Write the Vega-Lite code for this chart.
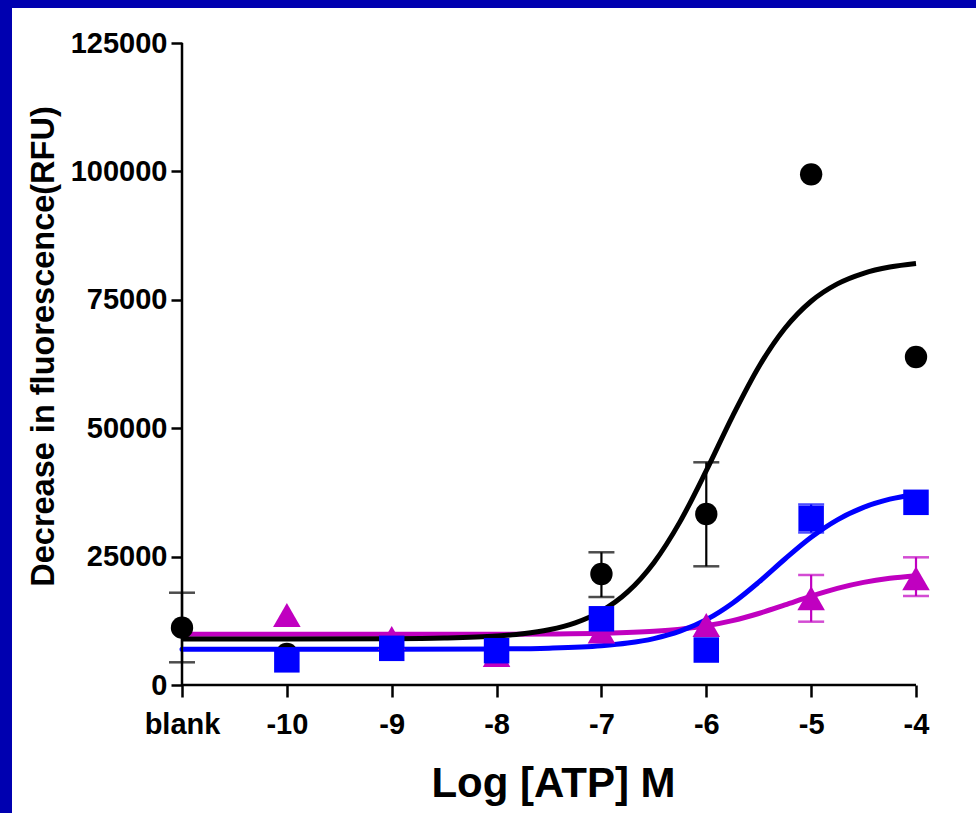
{
  "$schema": "https://vega.github.io/schema/vega-lite/v6.json",
  "width": 964,
  "height": 805,
  "autosize": {"type": "none"},
  "padding": {"left": 12, "top": 8, "right": 0, "bottom": 0},
  "background": "#0000b0",
  "config": {"view": {"fill": "white", "stroke": null}, "font": "Liberation Sans"},
  "datasets": {
    "frame": [
      {"x": -11, "x2": -4, "y": 0, "y2": 0},
      {"x": -11, "x2": -11, "y": 0, "y2": 125000}
    ],
    "curves": [
      {"s": "black", "x": -11, "y": 8951}, {"s": "black", "x": -10, "y": 8956}, {"s": "black", "x": -9, "y": 9009},
      {"s": "black", "x": -8.5, "y": 9136}, {"s": "black", "x": -8, "y": 9536}, {"s": "black", "x": -7.75, "y": 9981},
      {"s": "black", "x": -7.5, "y": 10765}, {"s": "black", "x": -7.25, "y": 12116}, {"s": "black", "x": -7, "y": 14399},
      {"s": "black", "x": -6.75, "y": 18116}, {"s": "black", "x": -6.5, "y": 23816}, {"s": "black", "x": -6.25, "y": 31812},
      {"s": "black", "x": -6, "y": 41730}, {"s": "black", "x": -5.75, "y": 52310}, {"s": "black", "x": -5.5, "y": 61920},
      {"s": "black", "x": -5.25, "y": 69450}, {"s": "black", "x": -5, "y": 74720}, {"s": "black", "x": -4.75, "y": 78105},
      {"s": "black", "x": -4.5, "y": 80165}, {"s": "black", "x": -4.25, "y": 81380}, {"s": "black", "x": -4, "y": 82080},
      {"s": "blue", "x": -11, "y": 6950}, {"s": "blue", "x": -10, "y": 6951}, {"s": "blue", "x": -9, "y": 6958},
      {"s": "blue", "x": -8, "y": 7020}, {"s": "blue", "x": -7.5, "y": 7172}, {"s": "blue", "x": -7, "y": 7641},
      {"s": "blue", "x": -6.75, "y": 8158}, {"s": "blue", "x": -6.5, "y": 9035}, {"s": "blue", "x": -6.25, "y": 10478},
      {"s": "blue", "x": -6, "y": 12721}, {"s": "blue", "x": -5.75, "y": 15933}, {"s": "blue", "x": -5.5, "y": 20025},
      {"s": "blue", "x": -5.25, "y": 24532}, {"s": "blue", "x": -5, "y": 28758}, {"s": "blue", "x": -4.75, "y": 32166},
      {"s": "blue", "x": -4.5, "y": 34594}, {"s": "blue", "x": -4.25, "y": 36179}, {"s": "blue", "x": -4, "y": 37150},
      {"s": "magenta", "x": -11, "y": 9870}, {"s": "magenta", "x": -9, "y": 9872}, {"s": "magenta", "x": -8, "y": 9889},
      {"s": "magenta", "x": -7.5, "y": 9930}, {"s": "magenta", "x": -7, "y": 10059}, {"s": "magenta", "x": -6.5, "y": 10449},
      {"s": "magenta", "x": -6.25, "y": 10863}, {"s": "magenta", "x": -6, "y": 11529}, {"s": "magenta", "x": -5.75, "y": 12537},
      {"s": "magenta", "x": -5.5, "y": 13920}, {"s": "magenta", "x": -5.25, "y": 15586}, {"s": "magenta", "x": -5, "y": 17307},
      {"s": "magenta", "x": -4.75, "y": 18823}, {"s": "magenta", "x": -4.5, "y": 19983}, {"s": "magenta", "x": -4.25, "y": 20776},
      {"s": "magenta", "x": -4, "y": 21280}
    ],
    "points": [
      {"s": "black", "x": -11, "y": 11157}, {"s": "black", "x": -10, "y": 6040}, {"s": "black", "x": -9, "y": 7000},
      {"s": "black", "x": -8, "y": 6500}, {"s": "black", "x": -7, "y": 21610}, {"s": "black", "x": -6, "y": 33290},
      {"s": "black", "x": -5, "y": 99430}, {"s": "black", "x": -4, "y": 63860},
      {"s": "magenta", "x": -10, "y": 13630}, {"s": "magenta", "x": -9, "y": 9150}, {"s": "magenta", "x": -8, "y": 5840},
      {"s": "magenta", "x": -7, "y": 10420}, {"s": "magenta", "x": -6, "y": 11680}, {"s": "magenta", "x": -5, "y": 16880},
      {"s": "magenta", "x": -4, "y": 20770},
      {"s": "blue", "x": -10, "y": 4900}, {"s": "blue", "x": -9, "y": 7140}, {"s": "blue", "x": -8, "y": 6680},
      {"s": "blue", "x": -7, "y": 12890}, {"s": "blue", "x": -6, "y": 6810}, {"s": "blue", "x": -5, "y": 32420},
      {"s": "blue", "x": -4, "y": 35570}
    ],
    "errors": [
      {"s": "black", "x": -11, "y": 4420, "y2": 17970},
      {"s": "black", "x": -7, "y": 17130, "y2": 25840},
      {"s": "black", "x": -6, "y": 23110, "y2": 43360},
      {"s": "blue", "x": -5, "y": 29700, "y2": 35150},
      {"s": "magenta", "x": -5, "y": 12330, "y2": 21420},
      {"s": "magenta", "x": -4, "y": 17330, "y2": 24860}
    ],
    "caps": [
      {"s": "black", "x": -11, "y": 4420}, {"s": "black", "x": -11, "y": 17970},
      {"s": "black", "x": -7, "y": 17130}, {"s": "black", "x": -7, "y": 25840},
      {"s": "black", "x": -6, "y": 23110}, {"s": "black", "x": -6, "y": 43360},
      {"s": "blue", "x": -5, "y": 29700}, {"s": "blue", "x": -5, "y": 35150},
      {"s": "magenta", "x": -5, "y": 12330}, {"s": "magenta", "x": -5, "y": 21420},
      {"s": "magenta", "x": -4, "y": 17330}, {"s": "magenta", "x": -4, "y": 24860}
    ]
  },
  "encoding": {
    "x": {
      "field": "x", "type": "quantitative",
      "scale": {"domain": [-12.6213, -3.4278], "nice": false, "zero": false},
      "axis": {
        "values": [-11, -10, -9, -8, -7, -6, -5, -4],
        "labelExpr": "datum.value == -11 ? 'blank' : '-' + abs(datum.value)",
        "domain": false, "grid": false, "offset": -128,
        "tickSize": 12, "tickWidth": 2.5, "tickColor": "black",
        "labelFont": "Liberation Sans", "labelFontWeight": "bold", "labelFontSize": 29, "labelColor": "black",
        "labelBaseline": "alphabetic", "labelPadding": 36, "labelFlush": false, "labelOverlap": false,
        "title": "Log [ATP] M", "titleFont": "Liberation Sans", "titleFontSize": 42, "titleFontWeight": "bold", "titleColor": "black",
        "titleX": 541, "titleY": 111, "titleBaseline": "alphabetic", "titleAlign": "center"
      }
    },
    "y": {
      "field": "y", "type": "quantitative",
      "scale": {"domain": [-24922, 131815], "nice": false, "zero": false},
      "axis": {
        "values": [0, 25000, 50000, 75000, 100000, 125000], "format": "d",
        "domain": false, "grid": false, "offset": -170,
        "tickSize": 11, "tickWidth": 2.5, "tickColor": "black",
        "labelFont": "Liberation Sans", "labelFontWeight": "bold", "labelFontSize": 29, "labelColor": "black",
        "labelPadding": 4, "labelOverlap": false, "labelFlush": false,
        "title": "Decrease in fluorescence(RFU)", "titleFont": "Liberation Sans", "titleFontSize": 32.5, "titleFontWeight": "bold", "titleColor": "black",
        "titleAngle": -90, "titleX": -129, "titleY": 338, "titleBaseline": "alphabetic", "titleAlign": "center"
      }
    }
  },
  "layer": [
    {
      "data": {"name": "frame"},
      "mark": {"type": "rule", "color": "black", "strokeWidth": 2.5},
      "encoding": {"x2": {"field": "x2"}, "y2": {"field": "y2"}}
    },
    {
      "data": {"name": "curves"},
      "transform": [{"filter": "datum.s == 'magenta'"}],
      "mark": {"type": "line", "color": "#c000c0", "strokeWidth": 5, "interpolate": "monotone", "strokeCap": "round"},
      "encoding": {}
    },
    {
      "data": {"name": "curves"},
      "transform": [{"filter": "datum.s == 'black'"}],
      "mark": {"type": "line", "color": "black", "strokeWidth": 5, "interpolate": "monotone"},
      "encoding": {}
    },
    {
      "data": {"name": "curves"},
      "transform": [{"filter": "datum.s == 'blue'"}],
      "mark": {"type": "line", "color": "#0000ff", "strokeWidth": 5, "interpolate": "monotone", "strokeCap": "round"},
      "encoding": {}
    },
    {
      "data": {"name": "errors"},
      "mark": {"type": "rule", "strokeWidth": 2.2},
      "encoding": {
        "y2": {"field": "y2"},
        "color": {"field": "s", "type": "nominal", "scale": {"domain": ["black", "blue", "magenta"], "range": ["#000000", "#0000ff", "#c000c0"]}, "legend": null}
      }
    },
    {
      "data": {"name": "caps"},
      "mark": {"type": "tick", "orient": "horizontal", "size": 26, "thickness": 2.5},
      "encoding": {
        "color": {"field": "s", "type": "nominal", "scale": {"domain": ["black", "blue", "magenta"], "range": ["#000000", "#0000ff", "#c000c0"]}, "legend": null}
      }
    },
    {
      "data": {"name": "points"},
      "transform": [{"filter": "datum.s == 'black'"}],
      "mark": {"type": "point", "shape": "circle", "filled": true, "opacity": 1, "size": 500, "color": "black"},
      "encoding": {}
    },
    {
      "data": {"name": "points"},
      "transform": [{"filter": "datum.s == 'magenta'"}],
      "mark": {"type": "point", "shape": "triangle-up", "filled": true, "opacity": 1, "size": 760, "color": "#c000c0"},
      "encoding": {}
    },
    {
      "data": {"name": "points"},
      "transform": [{"filter": "datum.s == 'blue'"}],
      "mark": {"type": "point", "shape": "square", "filled": true, "opacity": 1, "size": 650, "color": "#0000ff"},
      "encoding": {}
    }
  ]
}
